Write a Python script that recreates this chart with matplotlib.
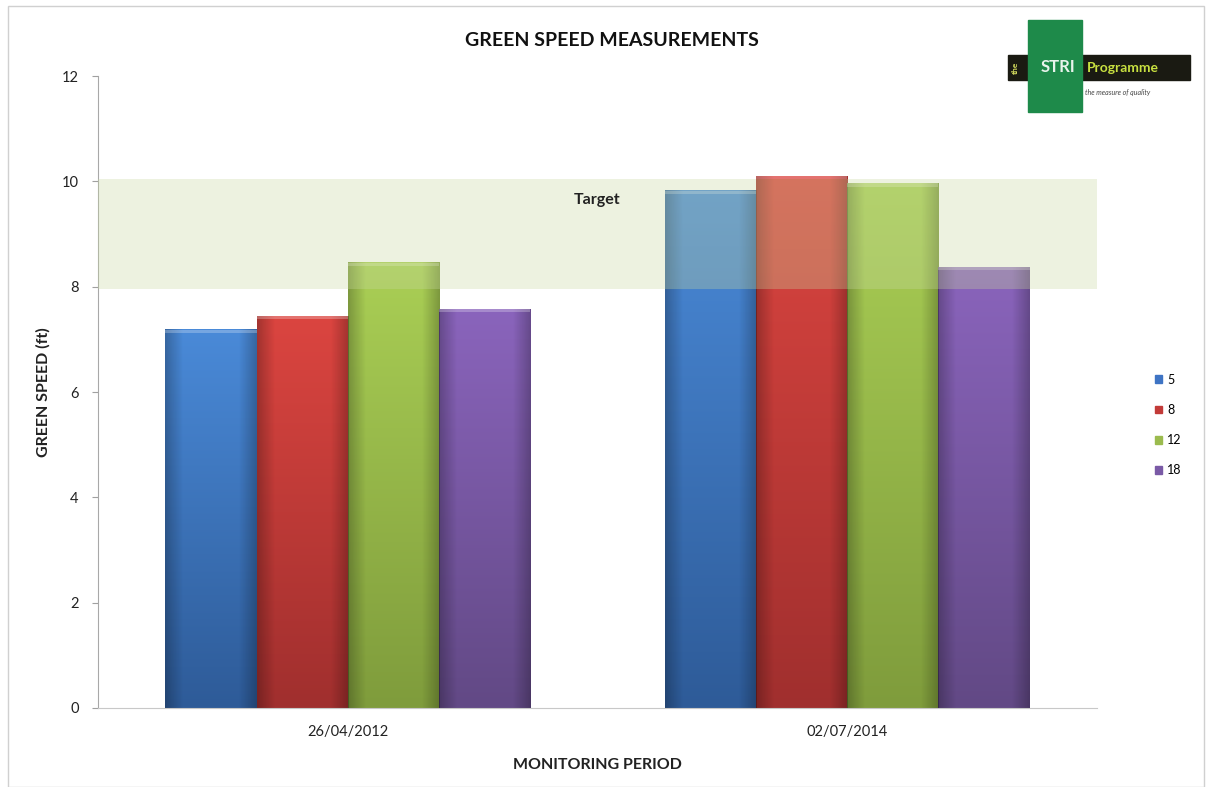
import matplotlib
matplotlib.use("Agg")
import matplotlib.pyplot as plt
import numpy as np
from matplotlib.patches import Rectangle
from matplotlib.colors import LinearSegmentedColormap

plt.rcParams['font.family'] = ['Lato', 'DejaVu Sans']

periods = ["26/04/2012", "02/07/2014"]
series = ["5", "8", "12", "18"]
values_5 = [7.18, 9.82]
values_8 = [7.44, 10.10]
values_12 = [8.45, 9.96]
values_18 = [7.57, 8.37]
target_low = 7.95
target_high = 10.05

top_colors = ["#4A8AD8", "#DB4540", "#AACF55", "#8A64BC"]
bottom_colors = ["#2E5B98", "#A02F2E", "#7F9C3C", "#624985"]
legend_colors = ["#3E74C4", "#C23A38", "#9BBB4E", "#7A5AA6"]

fig = plt.figure(figsize=(12.06, 7.87), dpi=100)
ax = fig.add_axes([0.0813, 0.1004, 0.8283, 0.803])

all_vals = [values_5, values_8, values_12, values_18]
x = np.arange(len(periods))
bw = 0.1825
offsets = (np.arange(4) - 1.5) * bw
for i, vals in enumerate(all_vals):
    bars = ax.bar(x + offsets[i], vals, bw, color=legend_colors[i], label=series[i],
                  zorder=2, edgecolor='none')
    cmap = LinearSegmentedColormap.from_list("g%d" % i, [bottom_colors[i], top_colors[i]])
    for b in bars:
        x0, w, h = b.get_x(), b.get_width(), b.get_height()
        grad = np.linspace(0, 1, 256).reshape(-1, 1)
        ax.imshow(grad, extent=[x0, x0 + w, 0, h], origin='lower', cmap=cmap,
                  aspect='auto', zorder=2.5)
        side = np.tile(np.concatenate([np.linspace(0.25, 0, 20), np.zeros(60), np.linspace(0, 0.25, 20)]), (2, 1))
        ax.imshow(np.dstack([np.zeros_like(side)] * 3 + [side]), extent=[x0, x0 + w, 0, h],
                  aspect='auto', zorder=2.6)
        ax.add_patch(Rectangle((x0, h - 0.06), w, 0.06, color='white', alpha=0.25, zorder=2.7, lw=0))

ax.axhspan(target_low, target_high, color='#C8D8A0', alpha=0.32, zorder=3, lw=0)
ax.text(0.5, 9.65, "Target", ha='center', va='center', fontsize=11.5, fontweight='bold',
        color='#222222', zorder=4)

ax.set_xlim(-0.5, 1.5)
ax.set_ylim(0, 12)
ax.set_yticks([0, 2, 4, 6, 8, 10, 12])
ax.set_xticks(x)
ax.set_xticklabels(periods)
ax.tick_params(axis='y', length=4, color='#A0A0A0', labelsize=10.5, labelcolor='#222222', pad=10)
ax.tick_params(axis='x', length=0, labelsize=10.5, labelcolor='#222222', pad=12)
for s in ['top', 'right']:
    ax.spines[s].set_visible(False)
ax.spines['left'].set_color('#A8A8A8')
ax.spines['bottom'].set_color('#C8C8C8')

ax.set_ylabel("GREEN SPEED (ft)", fontsize=11.5, fontweight='bold', color='#222222', labelpad=8)
ax.set_xlabel("MONITORING PERIOD", fontsize=11.5, fontweight='bold', color='#222222', labelpad=14)
fig.text(0.507, 0.948, "GREEN SPEED MEASUREMENTS", ha='center', va='center', fontsize=14,
         fontweight='bold', color='#111111')

handles = [Rectangle((0, 0), 1, 1, color=c) for c in legend_colors]
fig.legend(handles, series, loc='center left', bbox_to_anchor=(0.948, 0.46), frameon=False,
           fontsize=9, handlelength=0.6, handleheight=0.6, handletextpad=0.4, labelspacing=1.45)

# logo
fig.patches.append(Rectangle((1008 / 1206, 1 - 80 / 787), 182 / 1206, 25 / 787,
                             transform=fig.transFigure, color='#1A1A12', zorder=5))
fig.patches.append(Rectangle((1028 / 1206, 1 - 112 / 787), 54 / 1206, 92 / 787,
                             transform=fig.transFigure, color='#1E8A4A', zorder=6))
fig.text(1015 / 1206, 1 - 67.5 / 787, "the", rotation=90, ha='center', va='center', fontsize=6,
         color='#D8E060', fontweight='bold', zorder=7)
fig.text(1058 / 1206, 1 - 67.5 / 787, "STRI", ha='center', va='center', fontsize=12,
         color='#E8F4EC', fontweight='bold', zorder=7)
fig.text(1087 / 1206, 1 - 67.5 / 787, "Programme", ha='left', va='center', fontsize=10,
         color='#C8E040', fontweight='bold', zorder=7)
fig.text(1085 / 1206, 1 - 92 / 787, "the measure of quality", ha='left', va='center', fontsize=5,
         color='#444444', style='italic', zorder=7)

fig.patches.append(Rectangle((8 / 1206, 0), 1196 / 1206, 1 - 6 / 787, transform=fig.transFigure,
                             fill=False, edgecolor='#D0D0D0', lw=1))

fig.savefig("out.png", dpi=100)
